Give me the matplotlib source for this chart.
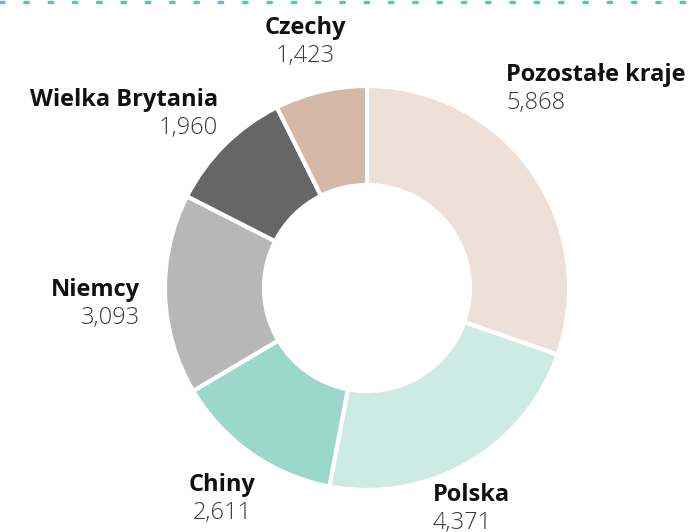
import matplotlib.pyplot as plt
import matplotlib as mpl
import numpy as np

mpl.rcParams.update({
    'font.family': ['Open Sans', 'DejaVu Sans'],
})

countries = ['Pozostałe kraje', 'Polska', 'Chiny', 'Niemcy', 'Wielka Brytania', 'Czechy']
values = [5868, 4371, 2611, 3093, 1960, 1423]
colors = ['#ede0d7', '#cdebe3', '#9ad8cb', '#b7b7b7', '#666666', '#d4b8a8']

# label anchors (pixels from top-left) and alignment
label_pos = [(506, 75, 'left'), (433, 495, 'left'), (222, 485, 'center'),
             (140, 290, 'right'), (218, 100, 'right'), (305, 28, 'center')]

W, H = 690, 532
fig = plt.figure(figsize=[W/100, H/100], dpi=100)
ax = fig.add_axes([0, 0, 1, 1])

cx, cy, r = 367, H-288, 202
ax.pie(values, colors=colors, startangle=90, counterclock=False,
       center=(cx, cy), radius=r, frame=True,
       wedgeprops=dict(width=r*0.49, edgecolor='white', linewidth=3))
ax.set_xlim(0, W)
ax.set_ylim(0, H)
ax.set_aspect('equal')
ax.axis('off')

for name, val, (x, y, ha) in zip(countries, values, label_pos):
    ax.text(x, H-y, name, ha=ha, va='center', fontsize=17, fontweight='bold', color='#111111')
    ax.text(x, H-y-28, '{:,}'.format(val), ha=ha, va='center', fontsize=17,
            fontweight='light', color='#3a3a3a')

# dotted rule along the top
ax.plot([0, W], [H-2, H-2], color='#4fc9b8', linestyle=(0, (1, 6)), linewidth=2.5,
        solid_capstyle='round', dash_capstyle='round')

fig.savefig('out.png', dpi=100)
